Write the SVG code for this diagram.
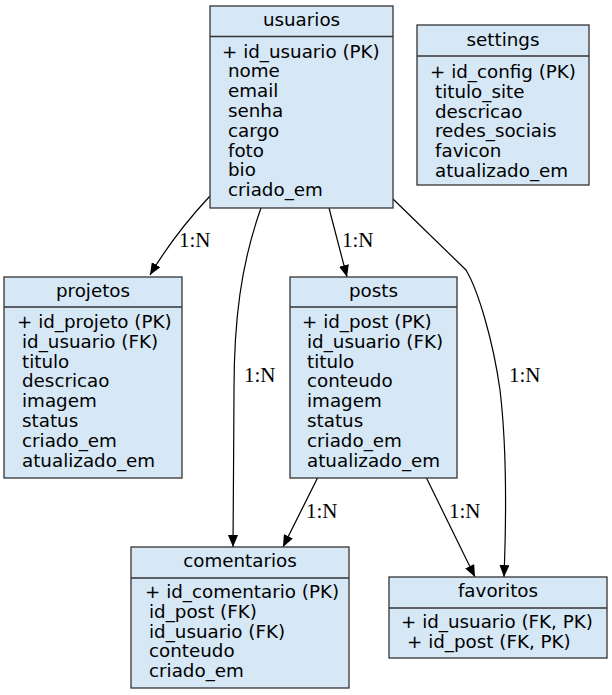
<svg xmlns="http://www.w3.org/2000/svg" width="612" height="695" viewBox="0 0 612 695">
<defs>
<marker id="arr" viewBox="0 0 12 10" refX="12" refY="5" markerWidth="12" markerHeight="10" markerUnits="userSpaceOnUse" orient="auto">
<path d="M0,0 L12,5 L0,10 z" fill="#000"/>
</marker>
</defs>
<style>
.box{fill:#d6e8f6;stroke:#333;stroke-width:1.3}
.t{font-family:"DejaVu Sans",sans-serif;font-size:18.3px;fill:#000}
.c{text-anchor:middle}
.e{fill:none;stroke:#000;stroke-width:1.2;marker-end:url(#arr)}
.l{font-family:"Liberation Serif","Times New Roman",serif;font-size:21px;fill:#000}
</style>
<rect width="612" height="695" fill="#fff"/>
<g id="connectors">
<path class="e" d="M210,196 C195,212 172,238 150,275"/>
<path class="e" d="M261,208 C241,264 234,320 234,390 C234,440 233,500 233,547"/>
<path class="e" d="M329,208 L347,277"/>
<path class="e" d="M393,199 L466,270 C478,290 493,340 500,390 C506,440 507,500 504,577"/>
<path class="e" d="M318,477 L283,547"/>
<path class="e" d="M426,477 L475,577"/>
<text class="l" x="179" y="247">1:N</text>
<text class="l" x="342" y="247">1:N</text>
<text class="l" x="244" y="382">1:N</text>
<text class="l" x="509" y="382">1:N</text>
<text class="l" x="306" y="518">1:N</text>
<text class="l" x="449" y="518">1:N</text>
</g>
<g id="usuarios">
<rect class="box" x="210" y="6" width="183" height="202"/>
<line x1="210" y1="36.5" x2="393" y2="36.5" stroke="#333" stroke-width="1.3"/>
<text class="t c" x="301.5" y="26">usuarios</text>
<text class="t" x="222" y="57.5">+ id_usuario (PK)</text>
<text class="t" x="228" y="77.3">nome</text>
<text class="t" x="228" y="97.1">email</text>
<text class="t" x="228" y="116.9">senha</text>
<text class="t" x="228" y="136.7">cargo</text>
<text class="t" x="228" y="156.5">foto</text>
<text class="t" x="228" y="176.3">bio</text>
<text class="t" x="228" y="196.1">criado_em</text>
</g>
<g id="settings">
<rect class="box" x="417" y="25" width="172" height="160"/>
<line x1="417" y1="56" x2="589" y2="56" stroke="#333" stroke-width="1.3"/>
<text class="t c" x="503" y="46">settings</text>
<text class="t" x="430" y="78">+ id_config (PK)</text>
<text class="t" x="435" y="97.8">titulo_site</text>
<text class="t" x="435" y="117.6">descricao</text>
<text class="t" x="435" y="137.4">redes_sociais</text>
<text class="t" x="435" y="157.2">favicon</text>
<text class="t" x="435" y="177">atualizado_em</text>
</g>
<g id="projetos">
<rect class="box" x="4" y="277" width="178" height="201"/>
<line x1="4" y1="307" x2="182" y2="307" stroke="#333" stroke-width="1.3"/>
<text class="t c" x="93" y="297">projetos</text>
<text class="t" x="17" y="328">+ id_projeto (PK)</text>
<text class="t" x="22" y="347.8">id_usuario (FK)</text>
<text class="t" x="22" y="367.6">titulo</text>
<text class="t" x="22" y="387.4">descricao</text>
<text class="t" x="22" y="407.2">imagem</text>
<text class="t" x="22" y="427">status</text>
<text class="t" x="22" y="446.8">criado_em</text>
<text class="t" x="22" y="466.6">atualizado_em</text>
</g>
<g id="posts">
<rect class="box" x="290" y="277" width="167" height="201"/>
<line x1="290" y1="307" x2="457" y2="307" stroke="#333" stroke-width="1.3"/>
<text class="t c" x="373.5" y="297">posts</text>
<text class="t" x="302" y="328">+ id_post (PK)</text>
<text class="t" x="307" y="347.8">id_usuario (FK)</text>
<text class="t" x="307" y="367.6">titulo</text>
<text class="t" x="307" y="387.4">conteudo</text>
<text class="t" x="307" y="407.2">imagem</text>
<text class="t" x="307" y="427">status</text>
<text class="t" x="307" y="446.8">criado_em</text>
<text class="t" x="307" y="466.6">atualizado_em</text>
</g>
<g id="comentarios">
<rect class="box" x="131" y="547" width="218" height="141"/>
<line x1="131" y1="578" x2="349" y2="578" stroke="#333" stroke-width="1.3"/>
<text class="t c" x="240" y="567">comentarios</text>
<text class="t" x="145" y="598">+ id_comentario (PK)</text>
<text class="t" x="149" y="617.8">id_post (FK)</text>
<text class="t" x="149" y="637.6">id_usuario (FK)</text>
<text class="t" x="149" y="657.4">conteudo</text>
<text class="t" x="149" y="677.2">criado_em</text>
</g>
<g id="favoritos">
<rect class="box" x="389" y="577" width="218" height="81"/>
<line x1="389" y1="608" x2="607" y2="608" stroke="#333" stroke-width="1.3"/>
<text class="t c" x="498" y="597">favoritos</text>
<text class="t" x="401" y="628">+ id_usuario (FK, PK)</text>
<text class="t" x="407" y="647.8">+ id_post (FK, PK)</text>
</g>
</svg>
